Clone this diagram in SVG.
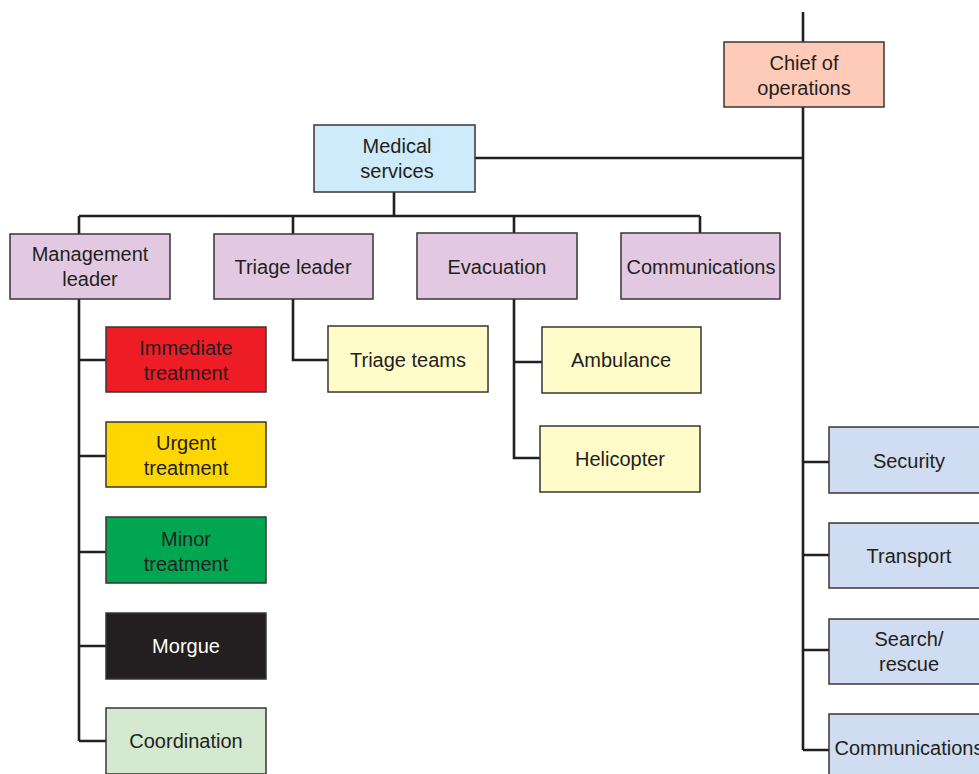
<svg xmlns="http://www.w3.org/2000/svg" width="979" height="774" viewBox="0 0 979 774">
<style>
rect{stroke:#3a3536;stroke-width:1.5}
text{font-family:"Liberation Sans",Arial,sans-serif;font-size:20px;fill:#231f20;text-anchor:middle}
.c path{fill:none;stroke:#231f20;stroke-width:2.6}
.chief{fill:#ffcbb9}.med{fill:#cdebfa}.pur{fill:#e2c9e1}.lyel{fill:#fffcc9}
.red{fill:#ee1c25}.yel{fill:#ffd700}.grn{fill:#00a651}.blk{fill:#231f20}.lgrn{fill:#d4e9cf}.blu{fill:#cfdcf1}
</style>
<rect width="979" height="774" fill="#fff" style="stroke:none"/>
<g class="c" id="connectors">
<path d="M803 12V750"/>
<path d="M475 158H803"/>
<path d="M394 192V216M79 216H700M79 216V234M293 216V234M514 216V233M700 216V233"/>
<path d="M79 299V741M79 360H106M79 456H106M79 552H106M79 646H106M79 741H106"/>
<path d="M293 299V360H328"/>
<path d="M514 299V458H540M514 362H542"/>
<path d="M803 462H829M803 555H829M803 650H829M803 750H829"/>
</g>
<g id="chief"><rect class="chief" x="724" y="42" width="160" height="65"/><text x="804" y="70">Chief of</text><text x="804" y="95">operations</text></g>
<g id="medical"><rect class="med" x="314" y="125" width="161" height="67"/><text x="397" y="153">Medical</text><text x="397" y="178">services</text></g>
<g id="management"><rect class="pur" x="10" y="234" width="160" height="65"/><text x="90" y="261">Management</text><text x="90" y="286">leader</text></g>
<g id="triage-leader"><rect class="pur" x="214" y="234" width="159" height="65"/><text x="293" y="274">Triage leader</text></g>
<g id="evacuation"><rect class="pur" x="417" y="233" width="160" height="66"/><text x="497" y="274">Evacuation</text></g>
<g id="communications"><rect class="pur" x="621" y="233" width="159" height="66"/><text x="701" y="274">Communications</text></g>
<g id="triage-teams"><rect class="lyel" x="328" y="326" width="160" height="66"/><text x="408" y="367">Triage teams</text></g>
<g id="ambulance"><rect class="lyel" x="542" y="327" width="159" height="66"/><text x="621" y="367">Ambulance</text></g>
<g id="helicopter"><rect class="lyel" x="540" y="426" width="160" height="66"/><text x="620" y="466">Helicopter</text></g>
<g id="immediate"><rect class="red" x="106" y="327" width="160" height="65"/><text x="186" y="355">Immediate</text><text x="186" y="380">treatment</text></g>
<g id="urgent"><rect class="yel" x="106" y="422" width="160" height="65"/><text x="186" y="450">Urgent</text><text x="186" y="475">treatment</text></g>
<g id="minor"><rect class="grn" x="106" y="517" width="160" height="66"/><text x="186" y="546">Minor</text><text x="186" y="571">treatment</text></g>
<g id="morgue"><rect class="blk" x="106" y="613" width="160" height="66"/><text x="186" y="653" style="fill:#fff">Morgue</text></g>
<g id="coordination"><rect class="lgrn" x="106" y="708" width="160" height="66"/><text x="186" y="748">Coordination</text></g>
<g id="security"><rect class="blu" x="829" y="427" width="160" height="66"/><text x="909" y="468">Security</text></g>
<g id="transport"><rect class="blu" x="829" y="523" width="160" height="65"/><text x="909" y="563">Transport</text></g>
<g id="search"><rect class="blu" x="829" y="619" width="160" height="65"/><text x="909" y="646">Search/</text><text x="909" y="671">rescue</text></g>
<g id="communications2"><rect class="blu" x="829" y="714" width="160" height="66"/><text x="909" y="755">Communications</text></g>
</svg>
